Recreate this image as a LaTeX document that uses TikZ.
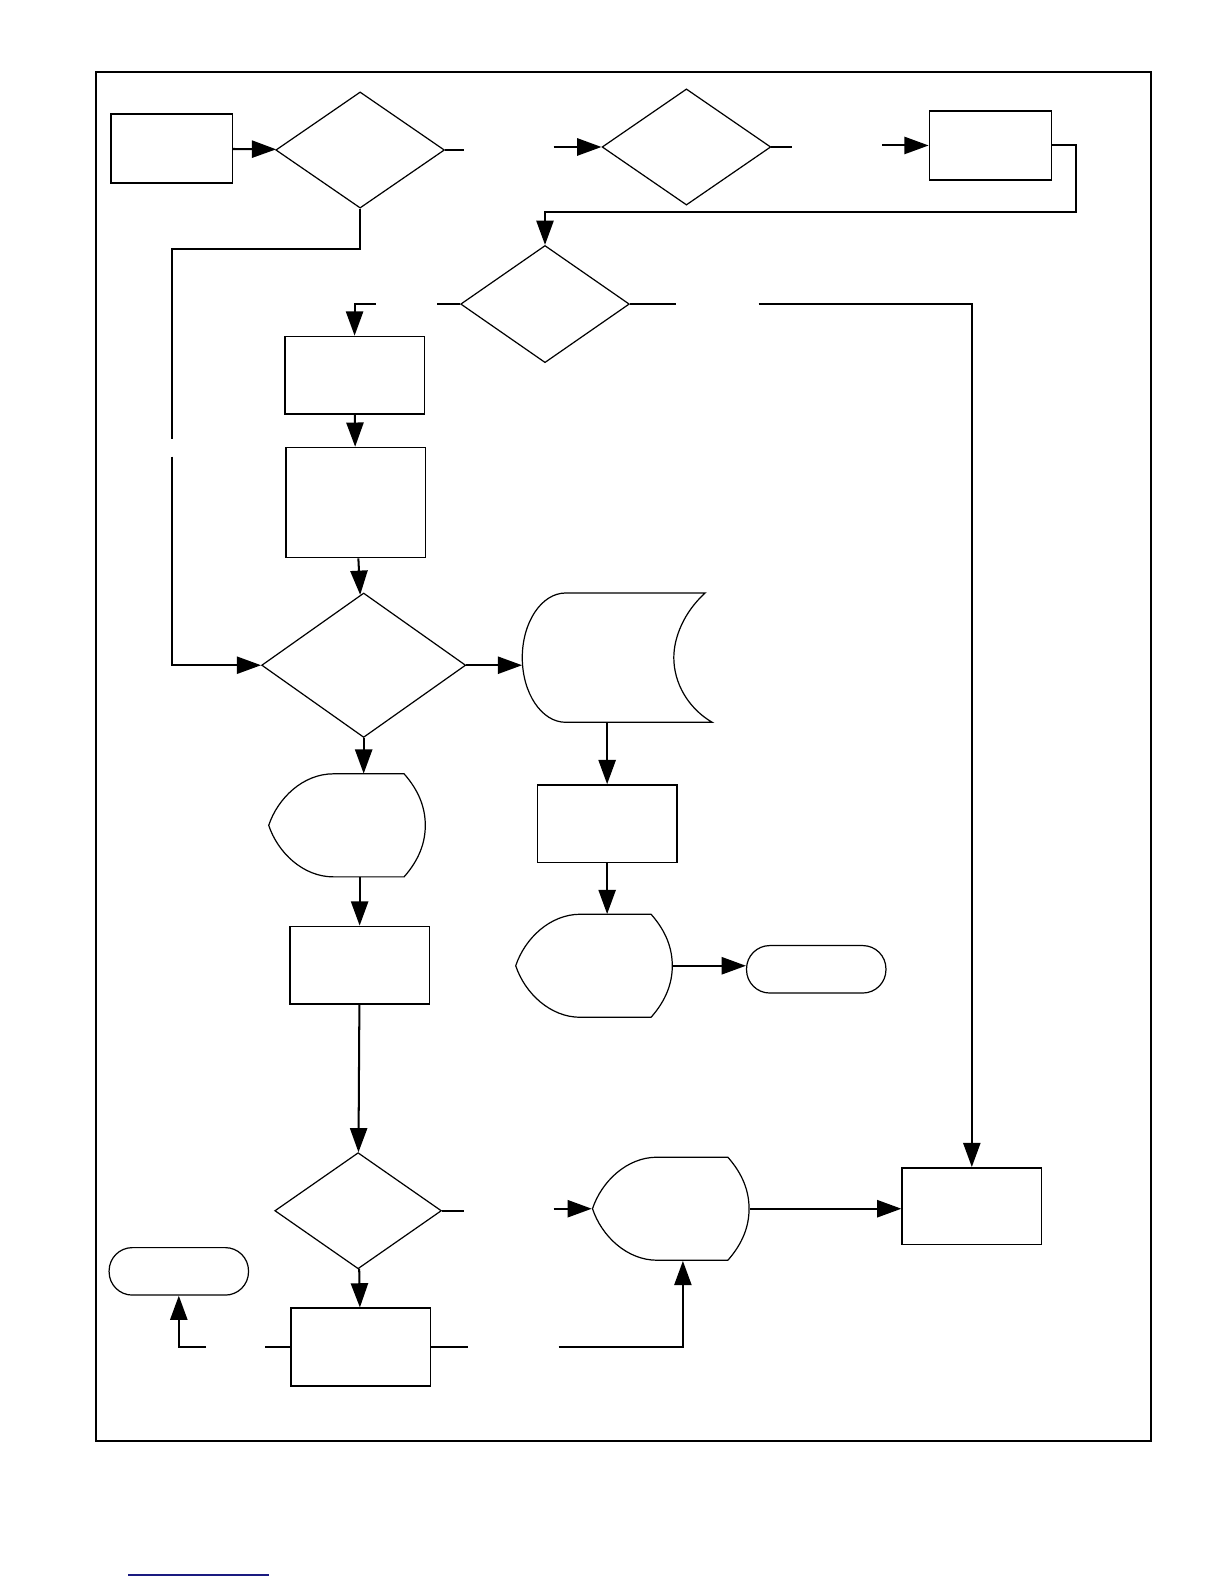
\documentclass[tikz,border=0pt]{standalone}
\usetikzlibrary{arrows.meta,shapes.geometric}
\definecolor{linknavy}{HTML}{1A1A80}

% outline of a display symbol, drawn round an empty node
\newcommand{\dispoutline}[1]{%
  \draw[shapeline, shift={(#1.center)}] (-13.5,-51) -- (56.5,-51)
    .. controls (71.5,-34) and (77.5,-17) .. (77.5,0)
    .. controls (77.5,17) and (71.5,34) .. (56.5,51) -- (-13.5,51)
    .. controls (-43.5,51) and (-68.5,27) .. (-77.5,0)
    .. controls (-68.5,-27) and (-43.5,-51) .. (-13.5,-51) -- cycle;}
% outline of a stored-data symbol
\newcommand{\storeoutline}[1]{%
  \draw[shapeline, shift={(#1.center)}] (-51,-64) -- (87,-64)
    .. controls (66,-45) and (56,-20) .. (56,0)
    .. controls (56,25) and (70,50) .. (94,64) -- (-51,64)
    .. controls (-75,64) and (-94,35) .. (-94,0)
    .. controls (-94,-35) and (-75,-64) .. (-51,-64) -- cycle;}

\begin{document}
\begin{tikzpicture}[x=1pt, y=-1pt,
  procbox/.style={draw, line width=1.5pt, minimum width=138pt, minimum height=77pt, inner sep=0pt},
  decision/.style={draw, diamond, line width=1.2pt, minimum width=167pt, minimum height=115pt, inner sep=0pt},
  termbox/.style={draw, line width=1.2pt, rounded corners=23pt, minimum width=138pt, minimum height=47pt, inner sep=0pt},
  ghost/.style={minimum width=155pt, minimum height=102pt, inner sep=0pt},
  shapeline/.style={line width=1.2pt},
  link/.style={line width=2pt},
  flow/.style={line width=2pt, -{Triangle[length=24pt, width=17pt]}}]

  \useasboundingbox (0,0) rectangle (1212,1568);

  % Frame
  \draw[line width=2pt] (95,71) rectangle (1139,1426);

  % Top row
  \node[procbox, minimum width=120pt, minimum height=68pt] (start) at (170,147) {};
  \node[decision] (d1) at (356.5,148.5) {};
  \node[decision] (d2) at (679.5,145.5) {};
  \node[procbox, minimum width=121pt, minimum height=68pt] (b2) at (980.5,144) {};
  \node[decision, minimum height=116pt] (d3) at (539.5,301) {};

  % Left column
  \node[procbox] (b3) at (351,371.5) {};
  \node[procbox, minimum height=109pt] (b4) at (352,497.5) {};
  \node[decision, minimum width=202pt, minimum height=143pt] (d4) at (360,658.5) {};
  \node[ghost] (disp1) at (343.5,817) {};
  \node[procbox] (b5) at (356,955.5) {};
  \node[decision, minimum width=165pt] (d5) at (354.5,1198.5) {};
  \node[procbox] (b7) at (357,1333.5) {};
  \node[termbox] (t2) at (177,1258.5) {};

  % Middle and right
  \node[ghost, minimum width=188pt, minimum height=128pt] (st) at (611,651) {};
  \node[procbox] (b6) at (601,815.5) {};
  \node[ghost] (disp2) at (588,956) {};
  \node[termbox] (t1) at (808,959.5) {};
  \node[ghost, minimum width=156pt, minimum height=103pt] (disp3) at (664,1196.5) {};
  \node[procbox, minimum height=76pt] (b8) at (962,1194) {};

  \storeoutline{st}
  \dispoutline{disp1}
  \dispoutline{disp2}
  \dispoutline{disp3}

  % Free ends of the broken connectors
  \coordinate (g1a) at (459,148.5);  \coordinate (g1b) at (548,145.5);
  \coordinate (g2a) at (784,145.5);  \coordinate (g2b) at (873,144);
  \coordinate (g3a) at (433,301);    \coordinate (g3b) at (372,301);
  \coordinate (g4a) at (669,301);    \coordinate (g4b) at (751,301);
  \coordinate (g5a) at (170,435);    \coordinate (g5b) at (170,452);
  \coordinate (g6a) at (459,1198.5); \coordinate (g6b) at (548,1196.5);
  \coordinate (g7a) at (262,1333.5); \coordinate (g7b) at (204,1333.5);
  \coordinate (g8a) at (463,1333.5); \coordinate (g8b) at (553,1333.5);

  % Connectors
  \draw[flow] (start) -- (d1);
  \draw[link] (d1.east) -- (g1a);
  \draw[flow] (g1b) -- (d2.west);
  \draw[link] (d2.east) -- (g2a);
  \draw[flow] (g2b) -- (b2.west);
  \draw[flow] (b2.east) -- (1065,144) -- (1065,210) -| (d3.north);
  \draw[link] (d3.west) -- (g3a);
  \draw[flow] (g3b) -| (b3.north);
  \draw[link] (d3.east) -- (g4a);
  \draw[flow] (g4b) -| (b8.north);
  \draw[link] (d1.south) -- (356.5,246) -| (g5a);
  \draw[flow] (g5b) |- (d4.west);
  \draw[flow] (b3) -- (b4);
  \draw[flow] (b4) -- (d4);
  \draw[flow] (d4.east) -- (d4.east -| st.west);
  \draw[flow] (d4.south) -- (d4.south |- disp1.north);
  \draw[flow] (b5.north |- disp1.south) -- (b5.north);
  \draw[flow] (b6.north |- st.south) -- (b6.north);
  \draw[flow] (b6.south) -- (b6.south |- disp2.north);
  \draw[flow] (disp2.east) -- (disp2.east -| t1.west);
  \draw[flow] (b5) -- (d5);
  \draw[link] (d5.east) -- (g6a);
  \draw[flow] (g6b) -- (disp3.west);
  \draw[flow] (disp3.east) -- (disp3.east -| b8.west);
  \draw[flow] (d5) -- (b7);
  \draw[link] (b7.west) -- (g7a);
  \draw[flow] (g7b) -| (t2.south);
  \draw[link] (b7.east) -- (g8a);
  \draw[flow] (g8b) -| ([xshift=12pt]disp3.south);

  % Rule under the page
  \draw[linknavy, line width=1.5pt] (127,1559) -- (266,1559);

\end{tikzpicture}
\end{document}
